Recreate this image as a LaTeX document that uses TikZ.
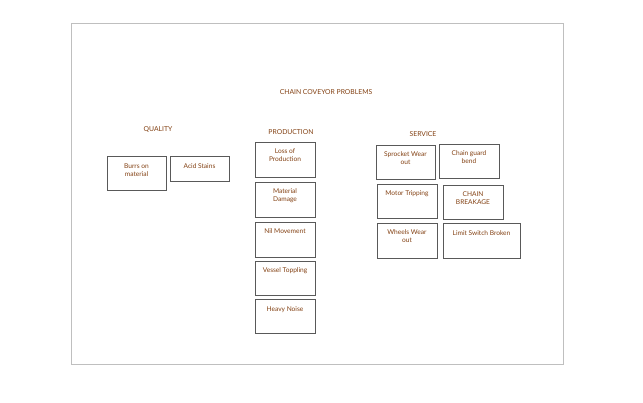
\documentclass[tikz,border=0pt]{standalone}
\usepackage{fontspec}
\setmainfont{Lato}
\usetikzlibrary{calc}
\definecolor{probbrown}{RGB}{130,64,18}
\tikzset{
 probbox/.style={draw=black!65,line width=0.6pt,minimum width=60pt,minimum height=35pt,inner sep=0pt},
 probtext/.style={text=probbrown,font=\fontsize{6.6}{8}\selectfont,align=center,anchor=north,inner sep=0pt},
 headtext/.style={text=probbrown,font=\fontsize{6.8}{8}\selectfont}
}

\begin{document}
\begin{tikzpicture}[x=1pt,y=-1pt]
 \useasboundingbox (0,0) rectangle (643,402);
 \draw[black!25,line width=0.6pt] (71.5,23) rectangle (563,364);
 % headings
 \node[headtext] (title) at (326,92) {CHAIN COVEYOR PROBLEMS};
 \node[headtext] (quality) at (158,130) {QUALITY};
 \node[headtext] (production) at (291,132) {PRODUCTION};
 \node[headtext] (service) at (423,134.5) {SERVICE};
 % quality
 \node[probbox,minimum width=59pt,minimum height=34pt] (burrs) at (136.5,173) {}; \node[probtext] (burrsT) at ($(burrs.north)+(0,7.5)$) {Burrs on\\material};
 \node[probbox,minimum width=59pt,minimum height=25pt] (acid) at (199.5,168.5) {}; \node[probtext] (acidT) at ($(acid.north)+(0,7.5)$) {Acid Stains};
 % production
 \node[probbox] (loss) at (285,159.5) {}; \node[probtext] (lossT) at ($(loss.north)+(0,7)$) {Loss of\\Production};
 \node[probbox] (damage) at (285,199.5) {}; \node[probtext] (damageT) at ($(damage.north)+(0,7)$) {Material\\Damage};
 \node[probbox] (nil) at (285,239.5) {}; \node[probtext] (nilT) at ($(nil.north)+(0,7)$) {Nil Movement};
 \node[probbox,minimum height=34pt] (vessel) at (285,278) {}; \node[probtext] (vesselT) at ($(vessel.north)+(0,7)$) {Vessel Toppling};
 \node[probbox,minimum height=34pt] (noise) at (285,316.5) {}; \node[probtext] (noiseT) at ($(noise.north)+(0,7)$) {Heavy Noise};
 % service
 \node[probbox,minimum width=59pt,minimum height=34pt] (sprocket) at (405.5,162) {}; \node[probtext] (sprocketT) at ($(sprocket.north)+(0,7)$) {Sprocket Wear\\out};
 \node[probbox,minimum height=34pt] (guard) at (469,161) {}; \node[probtext] (guardT) at ($(guard.north)+(0,6.5)$) {Chain guard\\bend};
 \node[probbox,minimum height=34pt] (motor) at (407,201) {}; \node[probtext] (motorT) at ($(motor.north)+(0,7)$) {Motor Tripping};
 \node[probbox,minimum height=34pt] (chain) at (473,202) {}; \node[probtext] (chainT) at ($(chain.north)+(0,7)$) {CHAIN\\BREAKAGE};
 \node[probbox] (wheels) at (407,240.5) {}; \node[probtext] (wheelsT) at ($(wheels.north)+(0,6.5)$) {Wheels Wear\\out};
 \node[probbox,minimum width=77pt] (limit) at (481.5,240.5) {}; \node[probtext] (limitT) at ($(limit.north)+(0,7.5)$) {Limit Switch Broken};
\end{tikzpicture}
\end{document}
